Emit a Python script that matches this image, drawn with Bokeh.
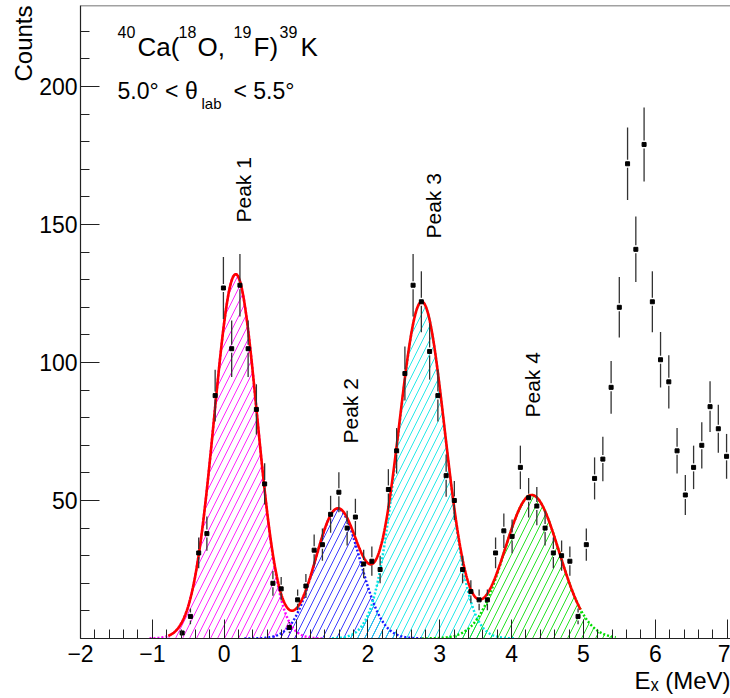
import math
import numpy as np
from bokeh.plotting import figure
from bokeh.models import Label, Span, FixedTicker, SingleIntervalTicker, Title
from bokeh.embed import file_html
from bokeh.resources import INLINE

# ---------------- data ----------------
E_X = [-0.585, -0.470, -0.355, -0.241, -0.126, -0.011, 0.104, 0.219, 0.333, 0.448,
       0.563, 0.678, 0.793, 0.907, 1.022, 1.137, 1.252, 1.367, 1.481, 1.596,
       1.711, 1.826, 1.941, 2.055, 2.170, 2.285, 2.400, 2.515, 2.629, 2.744,
       2.859, 2.974, 3.089, 3.203, 3.318, 3.433, 3.548, 3.663, 3.777, 3.892,
       4.007, 4.122, 4.237, 4.351, 4.466, 4.581, 4.696, 4.811, 4.925, 5.040,
       5.155, 5.270, 5.385, 5.499, 5.614, 5.729, 5.844, 5.959, 6.073, 6.188,
       6.303, 6.418, 6.533, 6.647, 6.762, 6.877, 6.992]
COUNTS = [2, 8, 31, 38, 88, 127, 105, 128, 105, 83,
          56, 20, 18, 4, 14, 19, 32, 34, 45, 53,
          40, 44, 27, 28, 25, 54, 68, 96, 128, 122,
          104, 88, 59, 50, 25, 17, 14, 14, 31, 39,
          37, 62, 51, 48, 40, 31, 30, 28, 8, 34,
          58, 65, 91, 120, 172, 141, 179, 122, 101, 93,
          68, 52, 62, 70, 84, 76, 66]

PEAK_NAMES = ["Peak 1", "Peak 2", "Peak 3", "Peak 4"]
PEAK_AMP = [132.0, 47.0, 122.0, 52.0]
PEAK_MU = [0.16, 1.58, 2.75, 4.28]
PEAK_SIGMA = [0.30, 0.31, 0.325, 0.38]
PEAK_LO = [-1.04, 0.28, 1.50, 2.75]
PEAK_HI = [1.36, 2.75, 4.05, 5.45]
FIT_LO, FIT_HI = -0.78, 4.96

X_TICKS = list(range(-2, 8))
Y_TICKS = [50, 100, 150, 200]
X_TITLE = "E\u2093 (MeV)"
Y_TITLE = "Counts"

# ---------------- styles / layout ----------------
PEAK_COLORS = ["#ff00ff", "#1a1aff", "#00e5e5", "#00dd00"]
FONT = "Liberation Sans"
W, H = 730, 698
LEFT, RIGHT, TOP, BOTTOM = 80, 0, 5, 60
FRAME_W = W - LEFT - RIGHT
FRAME_H = H - TOP - BOTTOM
X0 = -2.0
X1 = X0 + FRAME_W / 71.85
Y0 = 0.0
Y1 = FRAME_H / 2.76


def dx(px):
    return X0 + (px - LEFT) * (X1 - X0) / FRAME_W


def dy(py):
    return Y0 + (TOP + FRAME_H - py) * (Y1 - Y0) / FRAME_H


p = figure(width=W, height=H, x_range=(X0, X1), y_range=(Y0, Y1),
           output_backend="svg", toolbar_location=None,
           min_border_left=LEFT, min_border_right=RIGHT,
           min_border_top=TOP, min_border_bottom=BOTTOM)
p.title.visible = False
p.grid.visible = False
p.outline_line_color = None
p.background_fill_color = "white"
p.border_fill_color = "white"

# axes
xa = p.xaxis[0]
xa.ticker = SingleIntervalTicker(interval=1, num_minor_ticks=5)
xa.major_label_overrides = {-2: "\u22122", -1: "\u22121"}
ya = p.yaxis[0]
ya.ticker = FixedTicker(ticks=Y_TICKS, minor_ticks=list(range(10, 230, 10)))
for ax in (xa, ya):
    ax.axis_line_color = "#222222"
    ax.axis_line_width = 1.2
    ax.major_tick_line_color = "#222222"
    ax.minor_tick_line_color = "#222222"
    ax.major_tick_out = 0
    ax.minor_tick_out = 0
    ax.major_tick_in = 19
    ax.minor_tick_in = 9
    ax.major_label_text_font = FONT
    ax.major_label_text_font_size = "23px"
    ax.major_label_text_color = "black"
xa.major_label_standoff = 6
ya.major_label_standoff = 3

# axis titles as side-panel titles (right-aligned like ROOT)
p.add_layout(Title(text=Y_TITLE, align="right", text_font=FONT, text_font_size="24px",
                   text_font_style="normal", text_color="black", standoff=0), "left")
p.add_layout(Title(text=X_TITLE, align="right", text_font=FONT, text_font_size="24px",
                   text_font_style="normal", text_color="black", standoff=0), "below")

# top frame line
p.add_layout(Span(location=Y1, dimension="width", line_color="#444444", line_width=1.5))

# ---------------- fit components ----------------
def gauss(x, a, mu, s):
    return a * np.exp(-0.5 * ((x - mu) / s) ** 2)

for a, mu, s, lo, hi, c in zip(PEAK_AMP, PEAK_MU, PEAK_SIGMA, PEAK_LO, PEAK_HI, PEAK_COLORS):
    xs = np.linspace(lo, hi, 300)
    ys = gauss(xs, a, mu, s)
    p.varea(x=xs, y1=np.zeros_like(xs), y2=ys, fill_alpha=0,
            hatch_pattern="/", hatch_color=c, hatch_scale=14, hatch_weight=1.0,
            hatch_alpha=0.85)

for a, mu, s, lo, hi, c in zip(PEAK_AMP, PEAK_MU, PEAK_SIGMA, PEAK_LO, PEAK_HI, PEAK_COLORS):
    xs = np.linspace(lo, hi, 300)
    ys = gauss(xs, a, mu, s)
    p.line(xs, ys, line_color=c, line_width=2.5, line_dash="2 2")

xt = np.linspace(FIT_LO, FIT_HI, 600)
tot = sum(gauss(xt, a, mu, s) for a, mu, s in zip(PEAK_AMP, PEAK_MU, PEAK_SIGMA))
p.line(xt, tot, line_color="#ff0000", line_width=2.6)

# ---------------- data points ----------------
ex = np.array(E_X)
cy = np.array(COUNTS, dtype=float)
err = np.sqrt(cy)
gap = 4.0 * (Y1 - Y0) / FRAME_H
m = err > gap
p.segment(x0=ex[m], y0=(cy - err)[m], x1=ex[m], y1=(cy - gap)[m], line_color="#333333", line_width=1.3)
p.segment(x0=ex[m], y0=(cy + gap)[m], x1=ex[m], y1=(cy + err)[m], line_color="#333333", line_width=1.3)
p.scatter(ex, cy, marker="square", size=4, fill_color="black", line_color="black")

# ---------------- texts ----------------
def lab(text, px, py, size, align="left", baseline="alphabetic", angle=0.0):
    p.add_layout(Label(x=dx(px), y=dy(py), text=text, text_font=FONT,
                       text_font_size=f"{size}px", text_align=align,
                       text_baseline=baseline, angle=angle, text_color="black"))

# reaction
for t, px, sup in [("40", 117, True), ("Ca(", 137, False), ("18", 178, True), ("O,", 197, False),
                   ("19", 233, True), ("F)", 253, False), ("39", 279, True), ("K", 300, False)]:
    lab(t, px, 31.7 if sup else 46.7, 16 if sup else 26)

# angle window
lab("5.0\u00b0 < \u03b8", 117, 90, 23)
lab("lab", 201, 103, 15)
lab("< 5.5\u00b0", 233, 90, 23)

# peak labels
PEAK_LABEL_POS = [(243.3, 222), (350, 443), (433.3, 238), (531.7, 417)]
for name, (px, py) in zip(PEAK_NAMES, PEAK_LABEL_POS):
    lab(name, px, py, 21, align="left", angle=math.pi / 2)

open("out.html", "w").write(file_html(p, INLINE))
